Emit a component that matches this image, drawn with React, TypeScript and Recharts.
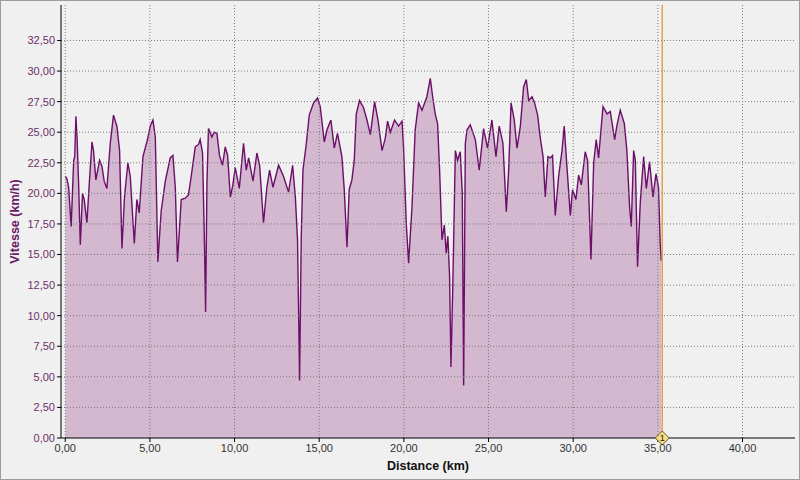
import {
  Area,
  ComposedChart,
  Label,
  ReferenceDot,
  ReferenceLine,
  XAxis,
  YAxis,
} from "recharts"

// distance (km) and speed (km/h)
const distanceKm = [
  0.0, 0.1, 0.2, 0.35, 0.5, 0.56, 0.63, 0.7, 0.79, 0.89, 1.02, 1.12, 1.28, 1.42, 1.58, 1.67, 1.81, 2.03, 2.17, 2.3,
  2.46, 2.66, 2.85, 3.05, 3.21, 3.35, 3.5, 3.7, 3.84, 4.08, 4.23, 4.37, 4.59, 4.86, 5.02, 5.18, 5.32, 5.47, 5.67, 5.91,
  6.2, 6.36, 6.5, 6.63, 6.85, 7.09, 7.28, 7.44, 7.68, 7.87, 7.97, 8.11, 8.23, 8.29, 8.37, 8.46, 8.66, 8.8, 8.96, 9.11,
  9.29, 9.45, 9.59, 9.75, 9.9, 10.04, 10.28, 10.53, 10.69, 10.83, 11.09, 11.32, 11.48, 11.71, 11.91, 12.07, 12.27, 12.6,
  12.89, 13.19, 13.43, 13.59, 13.72, 13.84, 13.94, 14.04, 14.24, 14.41, 14.67, 14.9, 15.06, 15.3, 15.46, 15.69, 15.89,
  16.08, 16.34, 16.48, 16.64, 16.77, 16.93, 17.07, 17.19, 17.38, 17.62, 17.82, 18.02, 18.27, 18.47, 18.71, 18.9, 19.04,
  19.2, 19.45, 19.69, 19.89, 19.98, 20.14, 20.28, 20.48, 20.67, 20.87, 21.07, 21.36, 21.56, 21.7, 21.85, 21.99, 22.11,
  22.25, 22.39, 22.5, 22.6, 22.7, 22.78, 22.88, 23.04, 23.17, 23.33, 23.45, 23.53, 23.63, 23.73, 23.92, 24.22, 24.45,
  24.71, 24.94, 25.2, 25.44, 25.63, 25.85, 26.05, 26.19, 26.33, 26.52, 26.68, 26.88, 27.07, 27.23, 27.37, 27.57, 27.72,
  27.9, 28.06, 28.22, 28.35, 28.51, 28.65, 28.78, 28.94, 29.14, 29.34, 29.47, 29.63, 29.83, 29.96, 30.16, 30.32, 30.48,
  30.71, 30.85, 31.05, 31.21, 31.36, 31.5, 31.76, 32.0, 32.19, 32.45, 32.59, 32.78, 33.02, 33.17, 33.33, 33.43, 33.57,
  33.67, 33.8, 33.96, 34.16, 34.32, 34.51, 34.71, 34.89, 35.04, 35.14, 35.2,
]

const speedKmh = [
  21.4, 21.2, 20.5, 17.3, 22.7, 23.0, 26.3, 24.5, 20.8, 15.8, 20.0, 19.5, 17.6, 20.8, 24.2, 23.5, 21.1, 22.7, 22.2, 21.0,
  20.4, 24.1, 26.4, 25.5, 23.5, 15.5, 19.7, 22.5, 21.4, 15.9, 19.5, 18.4, 23.0, 24.4, 25.5, 26.0, 24.6, 14.4, 18.6, 21.0,
  22.9, 23.1, 20.5, 14.4, 19.5, 19.6, 19.9, 21.4, 23.8, 24.0, 24.4, 23.3, 15.4, 10.3, 20.8, 25.3, 24.6, 25.0, 24.9, 23.1,
  22.3, 23.8, 23.1, 19.7, 20.7, 22.1, 20.4, 24.1, 21.9, 22.9, 21.0, 23.3, 22.3, 17.6, 20.5, 21.9, 20.5, 22.3,
  21.4, 20.1, 22.3, 19.7, 16.2, 4.7, 16.5, 21.9, 24.1, 26.4, 27.4, 27.8, 27.1, 24.2, 25.2, 26.0, 23.7,
  24.9, 23.0, 20.3, 15.6, 20.3, 21.1, 22.7, 26.5, 27.6, 27.0, 26.0, 24.8, 27.5, 26.0, 23.5, 24.5, 25.9,
  25.0, 26.0, 25.5, 25.9, 23.8, 17.6, 14.3, 18.9, 25.2, 27.4, 26.8, 27.9, 29.4, 27.9, 26.5, 25.7, 21.9,
  16.2, 17.4, 15.1, 16.5, 13.2, 5.8, 11.8, 23.5, 22.7, 23.4, 20.0, 4.3, 24.1, 25.2, 25.6, 24.4, 21.9,
  25.3, 23.7, 26.0, 23.0, 25.5, 24.1, 18.5, 21.9, 27.4, 26.0, 23.7, 25.5, 28.7, 29.3, 27.6, 27.9, 27.4,
  26.4, 24.5, 23.0, 19.7, 23.0, 22.9, 23.1, 18.2, 21.4, 23.5, 25.5, 22.2, 18.2, 20.3, 19.5, 21.5, 20.7,
  23.4, 22.7, 14.6, 22.5, 24.4, 22.9, 27.1, 26.5, 26.7, 24.4, 25.6, 26.8, 25.7, 23.5, 18.9, 17.3, 23.5,
  22.7, 14.0, 19.2, 23.0, 20.4, 22.6, 19.7, 21.6, 20.5, 15.9, 14.5,
]

const xTicks = [0, 5, 10, 15, 20, 25, 30, 35, 40]
const yTicks = [0, 2.5, 5, 7.5, 10, 12.5, 15, 17.5, 20, 22.5, 25, 27.5, 30, 32.5]
const lapMarkerKm = 35.26
const lapLabel = "1"

const data = distanceKm.map((km, i) => ({ km, speed: speedKmh[i] }))

const fmt = (v: number) => v.toFixed(2).replace(".", ",")

const LapDiamond = (props: any) => {
  const { cx, cy } = props
  if (cx == null || cy == null) return null
  return (
    <g>
      <path
        d={`M${cx},${cy - 7} L${cx + 7},${cy} L${cx},${cy + 7} L${cx - 7},${cy} Z`}
        fill="#F3DD85"
        stroke="#6B5A1C"
        strokeWidth={1}
      />
      <text x={cx} y={cy + 3} textAnchor="middle" fontSize={9} fontFamily="Liberation Sans" fill="#222">
        {lapLabel}
      </text>
    </g>
  )
}

export default function App() {
  return (
    <div
      style={{
        position: "absolute",
        left: 0,
        top: 0,
        width: 800,
        height: 480,
        background: "#F0F0F0",
        boxSizing: "border-box",
        border: "1px solid #9C9C9C",
        fontFamily: "Liberation Sans",
      }}
    >
      <div style={{ position: "absolute", left: -1, top: -1 }}>
        <ComposedChart
          width={800}
          height={480}
          data={data}
          margin={{ top: 5, right: 5, bottom: 0, left: 0 }}
        >
          <XAxis
            dataKey="km"
            type="number"
            domain={[-0.25, 43.1]}
            ticks={xTicks}
            tickFormatter={fmt}
            allowDataOverflow
            height={42}
            tickSize={4}
            stroke="#000"
            tick={{ fontSize: 11, fill: "#333", fontFamily: "Liberation Sans" }}
          >
            <Label
              value="Distance (km)"
              position="center"
              dy={7}
              style={{ fontSize: 12.5, fontWeight: "bold", fill: "#111", fontFamily: "Liberation Sans" }}
            />
          </XAxis>
          <YAxis
            type="number"
            domain={[0, 35.4]}
            ticks={yTicks}
            tickFormatter={fmt}
            allowDataOverflow
            width={61}
            tickSize={4}
            stroke="#000"
            tick={{ fontSize: 11, fill: "#6E2F68", fontFamily: "Liberation Sans" }}
          >
            <Label
              value="Vitesse (km/h)"
              position="center"
              angle={-90}
              dx={-16}
              style={{ fontSize: 12.5, fontWeight: "bold", fill: "#6B1966", fontFamily: "Liberation Sans", textAnchor: "middle" }}
            />
          </YAxis>
          <Area
            type="linear"
            dataKey="speed"
            stroke="#6B0F68"
            strokeWidth={1.4}
            fill="#D3B8CF"
            fillOpacity={1}
            baseValue={0}
            dot={false}
            activeDot={false}
            isAnimationActive={false}
          />
          {/* grid drawn over the fill, like the original */}
          {xTicks.map((t) => (
            <ReferenceLine key={`gx${t}`} x={t} stroke="#7A7A7A" strokeDasharray="1 2" />
          ))}
          {yTicks
            .filter((t) => t > 0)
            .map((t) => (
              <ReferenceLine key={`gy${t}`} y={t} stroke="#7A7A7A" strokeDasharray="1 2" />
            ))}
          <ReferenceLine x={lapMarkerKm} stroke="#DFA34A" strokeWidth={1.5} />
          <ReferenceDot x={lapMarkerKm} y={0} r={7} shape={LapDiamond} />
        </ComposedChart>
      </div>
    </div>
  )
}
